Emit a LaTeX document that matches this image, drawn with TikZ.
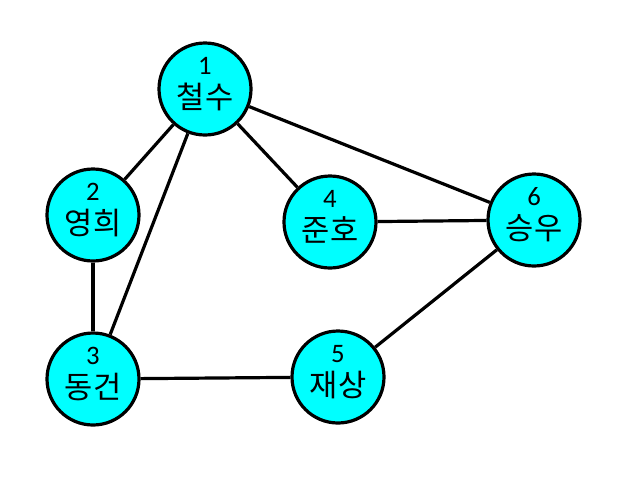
\documentclass[tikz,border=0pt]{standalone}
\usepackage{fontspec}
\newfontfamily\kr{Noto Sans CJK KR}
\setmainfont{Carlito}
\definecolor{nodecyan}{RGB}{0,255,255}
\begin{document}
\begin{tikzpicture}[x=0.75pt,y=-0.75pt,
  vertex/.style={circle,draw=black,fill=nodecyan,line width=2.4pt,minimum size=92*0.75pt,inner sep=0pt},
  vlabel/.style={inner sep=0pt,align=center,font=\fontsize{20}{25.5}\selectfont},
  edge/.style={line width=2.4pt}]
\useasboundingbox (0,0) rectangle (641,501);
\node[vertex] (n1) at (205,89) {};
\node[vertex] (n2) at (93,215) {};
\node[vertex] (n3) at (93,379) {};
\node[vertex] (n4) at (330,222) {};
\node[vertex] (n5) at (338,377) {};
\node[vertex] (n6) at (534,220) {};
\draw[edge] (n1) -- (n2);
\draw[edge] (n1) -- (n3);
\draw[edge] (n1) -- (n4);
\draw[edge] (n1) -- (n6);
\draw[edge] (n4) -- (n6);
\draw[edge] (n2) -- (n3);
\draw[edge] (n3) -- (n5);
\draw[edge] (n5) -- (n6);
\foreach \n/\t in {1/철수,2/영희,3/동건,4/준호,5/재상,6/승우}{
  \node[vlabel] (lab\n) at ([yshift=4pt]n\n.center) {\n\\{\kr\fontsize{23}{25.5}\selectfont \t}};
}
\end{tikzpicture}
\end{document}
